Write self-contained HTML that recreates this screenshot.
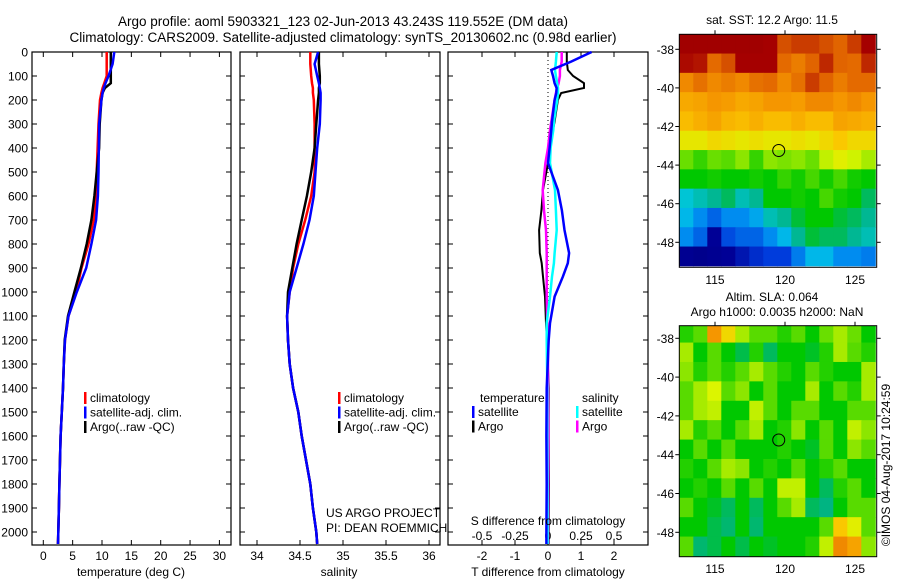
<!DOCTYPE html>
<html><head><meta charset="utf-8">
<style>
body{margin:0;background:#fff;}
svg{display:block;font-family:"Liberation Sans",sans-serif;}
text{fill:#000;}
</style></head>
<body>
<svg id="fig" width="900" height="580" viewBox="0 0 900 580">
<text x="343" y="26" font-size="13.5" text-anchor="middle">Argo profile: aoml 5903321_123 02-Jun-2013 43.243S 119.552E (DM data)</text>
<text x="343" y="42" font-size="13.5" text-anchor="middle">Climatology: CARS2009. Satellite-adjusted climatology: synTS_20130602.nc (0.98d earlier)</text>
<g id="g"></g>
</svg>
<script>
// ---- data ----
const depthT = [0,50,100,130,150,170,200,300,400,500,600,700,800,900,1000,1100,1200,1300,1400,1500,1600,1700,1800,1900,2000,2050];
const tempClim = [10.8,10.8,10.8,10.4,10.1,9.9,9.66,9.4,9.25,9.1,9.0,8.6,7.7,6.5,5.6,4.3,3.7,3.5,3.35,3.15,2.95,2.85,2.75,2.65,2.55,2.5];
const tempSat  = [12.1,11.8,11.1,10.6,10.3,10.1,9.9,9.5,9.45,9.4,9.3,9.0,8.2,7.3,5.7,4.3,3.7,3.5,3.35,3.15,2.95,2.85,2.75,2.65,2.55,2.5];
const tempArgo = [11.5,11.5,11.5,11.5,10.5,10.1,9.9,9.6,9.5,9.1,8.7,8.2,7.4,6.4,5.3,4.2,3.65,3.5,3.35,3.15,2.95,2.85,2.75,2.65,2.55,2.5];
const salClim = [34.62,34.62,34.63,34.64,34.65,34.65,34.66,34.67,34.67,34.67,34.63,34.56,34.48,34.42,34.38,34.35,34.36,34.38,34.42,34.48,34.52,34.57,34.62,34.65,34.69,34.70];
const salSat  = [34.71,34.67,34.70,34.72,34.73,34.74,34.74,34.73,34.70,34.68,34.66,34.61,34.54,34.46,34.38,34.35,34.36,34.38,34.42,34.48,34.52,34.57,34.62,34.65,34.69,34.70];
const salArgo = [34.72,34.72,34.73,34.73,34.72,34.72,34.71,34.69,34.67,34.63,34.58,34.52,34.46,34.41,34.36,34.35,34.36,34.38,34.42,34.48,34.52,34.57,34.62,34.65,34.69,34.70];
const depthD = [0,40,75,100,130,150,171,200,290,325,400,463,575,660,742,838,880,936,1019,1130,1200,1400,1600,1800,2000,2050];
const dTsat  = [1.32,0.7,0.1,0.15,0.2,0.26,0.25,0.2,0.12,0.1,0.05,0.0,0.3,0.42,0.5,0.64,0.6,0.45,0.2,0.06,0.02,-0.04,-0.05,-0.04,-0.05,-0.05];
const dTargo = [0.57,0.57,0.6,0.76,1.09,1.09,0.4,0.3,0.2,0.15,0.06,0.0,-0.15,-0.2,-0.27,-0.25,-0.19,-0.15,-0.09,-0.06,-0.03,0.02,0.02,0.03,0.02,0.02];
const dSargo = [0.104,0.104,0.09,0.09,0.08,0.07,0.06,0.05,0.025,0.015,0.0,-0.02,-0.04,-0.03,-0.015,-0.01,-0.01,-0.01,-0.01,-0.005,0,0,0.003,0.002,0,0];
const dSsat  = [0.066,0.06,0.053,0.06,0.07,0.076,0.076,0.07,0.045,0.04,0.02,0.015,0.053,0.06,0.066,0.05,0.045,0.03,0.015,-0.01,-0.01,-0.005,-0.005,-0.004,-0.003,-0.003];
const depthTicks = [0,100,200,300,400,500,600,700,800,900,1000,1100,1200,1300,1400,1500,1600,1700,1800,1900,2000];
const tempTicks = [0,5,10,15,20,25,30];
const salTicks = [34,34.5,35,35.5,36];
const salTickLabels = ["34","34.5","35","35.5","36"];
const dTTicks = [-2,-1,0,1,2];
const dSTicks = [-0.5,-0.25,0,0.25,0.5];
const dSTickLabels = ["-0.5","-0.25","0","0.25","0.5"];
const lonTicks = [115,120,125];
const latTicks = [-38,-40,-42,-44,-46,-48];
const argoLon = 119.552, argoLat = -43.243;
// colour-scale fractions, 14 cols (1deg lon from 112.45) x 12 rows (1deg lat from -37.22)
const sstGrid = [
[0.97,0.97,0.97,0.97,0.97,0.97,0.96,0.88,0.9,0.9,0.88,0.86,0.9,0.96],
[0.95,0.94,0.85,0.88,0.96,0.96,0.96,0.85,0.82,0.86,0.92,0.86,0.85,0.92],
[0.8,0.84,0.8,0.82,0.8,0.84,0.85,0.8,0.84,0.9,0.86,0.82,0.85,0.85],
[0.75,0.76,0.78,0.77,0.75,0.76,0.78,0.78,0.77,0.8,0.8,0.78,0.8,0.78],
[0.72,0.74,0.76,0.73,0.72,0.74,0.72,0.72,0.74,0.72,0.72,0.76,0.75,0.74],
[0.66,0.66,0.68,0.67,0.66,0.67,0.66,0.66,0.67,0.66,0.68,0.7,0.68,0.68],
[0.56,0.53,0.56,0.55,0.58,0.53,0.58,0.57,0.58,0.56,0.62,0.65,0.63,0.6],
[0.5,0.5,0.51,0.5,0.5,0.51,0.5,0.53,0.51,0.54,0.51,0.54,0.51,0.5],
[0.38,0.4,0.42,0.45,0.4,0.42,0.5,0.5,0.51,0.5,0.54,0.51,0.5,0.45],
[0.35,0.3,0.25,0.3,0.3,0.33,0.4,0.42,0.47,0.5,0.5,0.47,0.45,0.42],
[0.3,0.25,0.12,0.22,0.25,0.25,0.3,0.35,0.42,0.47,0.45,0.45,0.42,0.4],
[0.1,0.08,0.1,0.12,0.15,0.18,0.2,0.2,0.28,0.35,0.35,0.3,0.3,0.28]];
const slaGrid = [
[0.52,0.55,0.78,0.68,0.6,0.55,0.55,0.52,0.55,0.5,0.56,0.6,0.56,0.5],
[0.6,0.5,0.55,0.5,0.46,0.52,0.45,0.5,0.5,0.48,0.52,0.6,0.55,0.52],
[0.58,0.52,0.55,0.52,0.55,0.6,0.55,0.52,0.5,0.55,0.52,0.5,0.5,0.6],
[0.55,0.6,0.64,0.55,0.58,0.5,0.55,0.5,0.5,0.6,0.5,0.55,0.52,0.6],
[0.55,0.6,0.62,0.5,0.5,0.62,0.55,0.5,0.55,0.55,0.5,0.5,0.55,0.55],
[0.6,0.52,0.55,0.5,0.55,0.6,0.5,0.52,0.58,0.5,0.55,0.5,0.62,0.58],
[0.5,0.55,0.5,0.55,0.5,0.5,0.5,0.52,0.5,0.48,0.55,0.5,0.58,0.55],
[0.52,0.5,0.55,0.6,0.58,0.5,0.52,0.5,0.55,0.5,0.52,0.55,0.5,0.5],
[0.5,0.52,0.5,0.55,0.5,0.55,0.5,0.62,0.62,0.5,0.45,0.52,0.55,0.5],
[0.55,0.5,0.48,0.45,0.5,0.45,0.5,0.55,0.6,0.45,0.43,0.5,0.55,0.55],
[0.5,0.5,0.46,0.44,0.5,0.44,0.5,0.5,0.5,0.5,0.55,0.7,0.65,0.55],
[0.55,0.44,0.46,0.5,0.46,0.5,0.48,0.5,0.5,0.52,0.62,0.8,0.76,0.58]];

const NS="http://www.w3.org/2000/svg";
const G=document.getElementById('g');
function mk(tag,attrs,parent){const e=document.createElementNS(NS,tag);for(const k in attrs)e.setAttribute(k,attrs[k]);(parent||G).appendChild(e);return e;}
function txt(x,y,s,size,anchor,parent){const e=mk('text',{x:x,y:y,'font-size':size,'text-anchor':anchor||'middle'},parent);e.textContent=s;return e;}

const PT=52, PB=545;
const yD = d => PT + d*0.24;
const xT = t => 43.3 + t*5.87;
const xS = s => 257 + (s-34)*86;
const xDT = t => 548 + t*33;
const xDS = s => 548 + s*132;

function panel(name,x0,x1){
  const g=mk('g',{});
  
  
  const r=mk('rect',{x:x0,y:PT,width:x1-x0,height:PB-PT,fill:'none',stroke:'#000','stroke-width':1.2},g);
  
  
  return g;
}
function line(g,xs,ds,xf,color,name,w){
  const pts=xs.map((v,i)=>xf(v).toFixed(1)+','+yD(ds[i]).toFixed(1)).join(' ');
  const p=mk('polyline',{points:pts,fill:'none',stroke:color,'stroke-width':w||2.5,'stroke-linejoin':'miter'},g);
  
  
}
function xticks(g,ticks,labels,xf,x0,x1,ly,name){
  ticks.forEach((t,i)=>{
    const x=xf(t);
    mk('line',{x1:x,x2:x,y1:PT,y2:PT+5,stroke:'#000'},g);
    mk('line',{x1:x,x2:x,y1:PB,y2:PB-5,stroke:'#000'},g);
    if(ly){const e=txt(x,ly,labels[i],12,'middle',g);
      
      }
  });
}
// panel 1
const p1=panel('temperature-panel',32,231);
depthTicks.forEach(d=>{
  mk('line',{x1:32,x2:37,y1:yD(d),y2:yD(d),stroke:'#000'},p1);
  mk('line',{x1:231,x2:226,y1:yD(d),y2:yD(d),stroke:'#000'},p1);
  const e=txt(28,yD(d)+4.5,String(d),12,'end',p1);
  
  
});
xticks(p1,tempTicks,tempTicks.map(String),xT,32,231,560,'temperature');
line(p1,tempClim,depthT,xT,'#f00','temp-climatology-line');
line(p1,tempArgo,depthT,xT,'#000','temp-argo-line');
line(p1,tempSat,depthT,xT,'#00f','temp-satellite-line');
let e=txt(131,576,'temperature (deg C)',12,'middle',p1);


function legend(g,x,y,items){
  items.forEach((it,i)=>{
    const yy=y+i*14.5;
    mk('rect',{x:x,y:yy-10,width:2.5,height:12,fill:it[0]},g);
    const t=txt(x+6,yy,it[1],12,'start',g);
    
    
  });
}
legend(p1,84,402,[['#f00','climatology'],['#00f','satellite-adj. clim.'],['#000','Argo(..raw -QC)']]);
// panel 2
const p2=panel('salinity-panel',240,440);
depthTicks.forEach(d=>{
  mk('line',{x1:240,x2:245,y1:yD(d),y2:yD(d),stroke:'#000'},p2);
  mk('line',{x1:440,x2:435,y1:yD(d),y2:yD(d),stroke:'#000'},p2);
});
xticks(p2,salTicks,salTickLabels,xS,240,440,560,'salinity');
line(p2,salClim,depthT,xS,'#f00','sal-climatology-line');
line(p2,salArgo,depthT,xS,'#000','sal-argo-line');
line(p2,salSat,depthT,xS,'#00f','sal-satellite-line');
e=txt(339,576,'salinity',12,'middle',p2);


legend(p2,338,402,[['#f00','climatology'],['#00f','satellite-adj. clim.'],['#000','Argo(..raw -QC)']]);
e=txt(326,517,'US ARGO PROJECT',12,'start',p2);


e=txt(326,532,'PI: DEAN ROEMMICH',12,'start',p2);


// panel 3
const p3=panel('difference-panel',448,648);
depthTicks.forEach(d=>{
  mk('line',{x1:448,x2:453,y1:yD(d),y2:yD(d),stroke:'#000'},p3);
  mk('line',{x1:648,x2:643,y1:yD(d),y2:yD(d),stroke:'#000'},p3);
});
xticks(p3,dTTicks,dTTicks.map(String),xDT,448,648,560,'t-diff');
dSTicks.forEach((s,i)=>{const t=txt(xDS(s),540,dSTickLabels[i],12,'middle',p3);
  
  });
mk('line',{x1:xDT(0),x2:xDT(0),y1:PT,y2:PB,stroke:'#000','stroke-dasharray':'1,3'},p3);
line(p3,dTargo,depthD,xDT,'#000','t-diff-argo-line',2);
line(p3,dSargo,depthD,xDS,'#f0f','s-diff-argo-line',2.5);
line(p3,dSsat,depthD,xDS,'#0ff','s-diff-satellite-line',2.5);
line(p3,dTsat,depthD,xDT,'#00f','t-diff-satellite-line',2.5);
e=txt(548,576,'T difference from climatology',12,'middle',p3);


e=txt(548,525,'S difference from climatology',12,'middle',p3);


e=txt(480,402,'temperature',12,'start',p3);


e=txt(582,402,'salinity',12,'start',p3);


legend(p3,472,416,[['#00f','satellite'],['#000','Argo']]);
legend(p3,576,416,[['#0ff','satellite'],['#f0f','Argo']]);

// maps
const cmapStops=[[0,0,0,120],[0.12,0,0,150],[0.2,0,60,220],[0.3,0,140,240],[0.37,0,200,230],[0.43,0,180,130],[0.5,0,200,0],[0.58,140,230,0],[0.64,220,245,0],[0.7,250,200,0],[0.78,245,150,0],[0.86,225,100,0],[0.92,190,40,0],[0.96,165,0,0],[1,150,0,0]];
function cmap(v){
  v=Math.max(0,Math.min(1,v));
  for(let i=1;i<cmapStops.length;i++){
    const a=cmapStops[i-1],b=cmapStops[i];
    if(v<=b[0]){const f=(v-a[0])/(b[0]-a[0]);
      return 'rgb('+Math.round(a[1]+f*(b[1]-a[1]))+','+Math.round(a[2]+f*(b[2]-a[2]))+','+Math.round(a[3]+f*(b[3]-a[3]))+')';}
  }
  return 'rgb(150,0,0)';
}
function map(name,grid,top,bottom,lat38,lat48,labelY){
  const L=679.3,R=876.7;
  const xL=lon=>715+(lon-115)*14.0;
  const pxPerLat=(lat48-lat38)/10;
  const yL=lat=>lat38+(-38-lat)*pxPerLat;
  const g=mk('g',{});
  
  
  const lon0=112.45, lat0=-37.22;
  grid.forEach((row,ri)=>row.forEach((v,ci)=>{
    const x=xL(lon0+ci), y=yL(lat0-ri);
    const x2=Math.min(R,xL(lon0+ci+1)), y2=Math.min(bottom,yL(lat0-ri-1));
    const c=mk('rect',{x:x,y:Math.max(top,y),width:x2-x+0.5,height:y2-Math.max(top,y)+0.5,fill:cmap(v)},g);
    
    
  }));
  mk('rect',{x:L,y:top,width:R-L,height:bottom-top,fill:'none',stroke:'#000'},g);
  lonTicks.forEach(l=>{
    mk('line',{x1:xL(l),x2:xL(l),y1:top,y2:top-4,stroke:'#000'},g);
    const t=txt(xL(l),labelY,String(l),12,'middle',g);
    
    
  });
  latTicks.forEach(l=>{
    mk('line',{x1:L,x2:L-4,y1:yL(l),y2:yL(l),stroke:'#000'},g);
    mk('line',{x1:R,x2:R+4,y1:yL(l),y2:yL(l),stroke:'#000'},g);
    const t=txt(674,yL(l)+4.5,String(l),12,'end',g);
    
    
  });
  const c=mk('circle',{cx:xL(argoLon),cy:yL(argoLat),r:6,fill:'none',stroke:'#000','stroke-width':1},g);
  
  
}
map('sst-map',sstGrid,34.3,267.3,49.3,242.3,284);
map('sla-map',slaGrid,325.7,556.7,338.3,532.3,573);
e=txt(772,24,'sat. SST: 12.2  Argo: 11.5',12,'middle');


e=txt(772,301,'Altim. SLA: 0.064',12,'middle');


e=txt(777,316,'Argo h1000: 0.0035 h2000: NaN',12,'middle');


e=txt(0,0,'©IMOS 04-Aug-2017 10:24:59',12,'middle');
e.setAttribute('transform','translate(890,465) rotate(-90)');


</script>
</body></html>
